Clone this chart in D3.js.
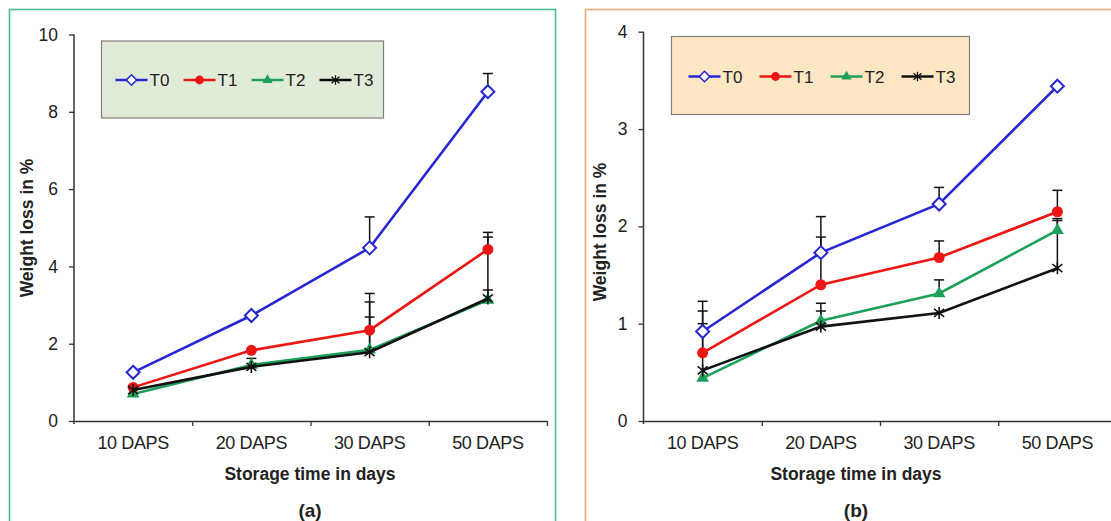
<!DOCTYPE html>
<html>
<head>
<meta charset="utf-8">
<script src="https://cdn.jsdelivr.net/npm/d3@7"></script>
<style>
  body { margin: 0; background: #fff; }
  svg { display: block; font-family: "Liberation Sans", Arial, sans-serif; }
</style>
</head>
<body>
<svg id="chart" width="1111" height="521"></svg>
<script>
var categories = ["10 DAPS", "20 DAPS", "30 DAPS", "50 DAPS"];
var seriesNames = ["T0", "T1", "T2", "T3"];
var yTicksA = [0, 2, 4, 6, 8, 10];
var yTicksB = [0, 1, 2, 3, 4];

// panel (a) weight loss, %
var lossA_T0 = [1.26, 2.73, 4.48, 8.52];
var lossA_T1 = [0.87, 1.83, 2.35, 4.44];
var lossA_T2 = [0.70, 1.45, 1.84, 3.13];
var lossA_T3 = [0.80, 1.40, 1.78, 3.17];
// panel (a) upper error bars
var errA_T0 = [0, 0, 0.80, 0.47];
var errA_T1 = [0, 0, 0.95, 0.44];
var errA_T2 = [0, 0.17, 1.24, 1.63];
var errA_T3 = [0, 0, 0.91, 0.22];

// panel (b) weight loss, %
var lossB_T0 = [0.92, 1.73, 2.23, 3.44];
var lossB_T1 = [0.70, 1.40, 1.68, 2.15];
var lossB_T2 = [0.44, 1.03, 1.31, 1.96];
var lossB_T3 = [0.52, 0.97, 1.11, 1.57];
// panel (b) upper error bars
var errB_T0 = [0.31, 0.37, 0.17, 0];
var errB_T1 = [0.43, 0.49, 0.17, 0.22];
var errB_T2 = [0, 0.18, 0.14, 0.10];
var errB_T3 = [0.48, 0.16, 0, 0.51];

var styles = [
    {color: "#2727d6", marker: "diamond"},
    {color: "#ee1515", marker: "circle"},
    {color: "#1da05a", marker: "triangle"},
    {color: "#111111", marker: "star"}
];

var svg = d3.select("#chart");

var markerPath = function(type) {
    if (type === "diamond") return "M0,-6.5L6.5,0L0,6.5L-6.5,0Z";
    if (type === "circle") return d3.symbol(d3.symbolCircle, 95)();
    if (type === "triangle") return d3.symbol(d3.symbolTriangle, 70)();
    return "M0,-6L0,6M-5,-4L5,4M-5,4L5,-4";
};

var drawMarker = function(g, type, color) {
    g.append("path")
        .attr("d", markerPath(type))
        .attr("fill", type === "diamond" ? "#fff" : (type === "star" ? "none" : color))
        .attr("stroke", color)
        .attr("stroke-width", type === "diamond" ? 2 : (type === "star" ? 1.6 : 0));
};

var drawPanel = function(p) {
    svg.append("rect")
        .attr("x", p.bx).attr("y", p.by)
        .attr("width", p.bw).attr("height", 560)
        .attr("fill", "none")
        .attr("stroke", p.border).attr("stroke-width", 1.6);

    var g = svg.append("g").attr("transform", "translate(" + p.left + "," + p.top + ")");
    var width = 473, height = 421 - p.top;

    var x = d3.scaleBand().domain(categories).range([0, width]);
    var xb = d3.scaleLinear().domain([0, 4]).range([0, width]);
    var y = d3.scaleLinear().domain([0, p.ymax]).range([height, 0]);

    // y axis
    var ya = g.append("g")
        .call(d3.axisLeft(y).tickValues(p.yticks).tickFormat(d3.format("d"))
            .tickSize(5).tickSizeOuter(0).tickPadding(11));
    ya.select(".domain").attr("stroke", "#333").attr("stroke-width", 1.5).attr("d", "M0,0V" + (height + 3));
    ya.selectAll(".tick line").attr("stroke", "#333").attr("stroke-width", 1.3);
    ya.selectAll("text").attr("font-size", 17.5).attr("fill", "#222");

    // x axis line + tick marks at band edges
    var xa = g.append("g").attr("transform", "translate(0," + height + ")")
        .call(d3.axisBottom(xb).tickValues([1, 2, 3, 4]).tickSize(5).tickSizeOuter(0).tickFormat(""));
    xa.select(".domain").attr("stroke", "#333").attr("stroke-width", 1.5);
    xa.selectAll(".tick line").attr("stroke", "#333").attr("stroke-width", 1.3);

    var xl = g.append("g").attr("transform", "translate(0," + height + ")")
        .call(d3.axisBottom(x).tickSize(0).tickPadding(15));
    xl.select(".domain").remove();
    xl.selectAll("text").attr("font-size", 18).attr("fill", "#222").attr("letter-spacing", -0.4);

    // error bars
    p.series.forEach(function(s, si) {
        s.values.forEach(function(v, i) {
            var e = s.errors[i];
            if (!e) return;
            var cx = x(categories[i]) + x.bandwidth() / 2;
            g.append("line")
                .attr("x1", cx).attr("x2", cx)
                .attr("y1", y(v)).attr("y2", y(v + e))
                .attr("stroke", "#111").attr("stroke-width", 1.5);
            g.append("line")
                .attr("x1", cx - 5).attr("x2", cx + 5)
                .attr("y1", y(v + e)).attr("y2", y(v + e))
                .attr("stroke", "#111").attr("stroke-width", 1.5);
        });
    });

    var line = d3.line()
        .x(function(d, i) { return x(categories[i]) + x.bandwidth() / 2; })
        .y(function(d) { return y(d); });

    p.series.forEach(function(s, si) {
        var st = styles[si];
        g.append("path")
            .datum(s.values)
            .attr("d", line)
            .attr("fill", "none")
            .attr("stroke", st.color)
            .attr("stroke-width", 2.6);
        s.values.forEach(function(v, i) {
            var m = g.append("g")
                .attr("transform", "translate(" + (x(categories[i]) + x.bandwidth() / 2) + "," + y(v) + ")");
            drawMarker(m, st.marker, st.color);
        });
    });

    // legend
    var lg = svg.append("g");
    lg.append("rect")
        .attr("x", p.legend.x).attr("y", p.legend.y)
        .attr("width", p.legend.w).attr("height", p.legend.h)
        .attr("fill", p.legend.fill).attr("stroke", "#7f7f7f").attr("stroke-width", 1.2);
    seriesNames.forEach(function(name, i) {
        var st = styles[i];
        var lx = p.legend.x + p.legend.pad + i * p.legend.step;
        var ly = p.legend.y + p.legend.row;
        lg.append("line")
            .attr("x1", lx).attr("x2", lx + 32)
            .attr("y1", ly).attr("y2", ly)
            .attr("stroke", st.color).attr("stroke-width", 2.6);
        var m = lg.append("g").attr("transform", "translate(" + (lx + 16) + "," + ly + ") scale(0.8)");
        drawMarker(m, st.marker, st.color);
        lg.append("text")
            .attr("x", lx + 34).attr("y", ly + 6)
            .attr("font-size", 17).attr("fill", "#222")
            .text(name);
    });

    // titles
    svg.append("text")
        .attr("x", p.xTitleX).attr("y", 480)
        .attr("text-anchor", "middle")
        .attr("font-size", 17.5).attr("font-weight", "bold").attr("fill", "#222")
        .text("Storage time in days");
    svg.append("text")
        .attr("transform", "translate(" + p.yTitleX + "," + p.yTitleY + ") rotate(-90)")
        .attr("text-anchor", "middle")
        .attr("font-size", 17.5).attr("font-weight", "bold").attr("fill", "#222")
        .text("Weight loss in %");
    svg.append("text")
        .attr("x", p.xTitleX).attr("y", 517)
        .attr("text-anchor", "middle")
        .attr("font-size", 19).attr("font-weight", "bold").attr("fill", "#222")
        .text(p.label);
};

drawPanel({
    bx: 9.5, by: 9.5, bw: 546, border: "#4dbb8c",
    left: 74, top: 34.5, ymax: 10, yticks: yTicksA,
    series: [
        {values: lossA_T0, errors: errA_T0},
        {values: lossA_T1, errors: errA_T1},
        {values: lossA_T2, errors: errA_T2},
        {values: lossA_T3, errors: errA_T3}
    ],
    legend: {x: 101.5, y: 41, w: 282, h: 77, fill: "#e1ecd8", pad: 14, step: 68, row: 39},
    xTitleX: 310, yTitleX: 33, yTitleY: 228, label: "(a)"
});

drawPanel({
    bx: 585.5, by: 9.5, bw: 560, border: "#eea777",
    left: 643.5, top: 31.7, ymax: 4, yticks: yTicksB,
    series: [
        {values: lossB_T0, errors: errB_T0},
        {values: lossB_T1, errors: errB_T1},
        {values: lossB_T2, errors: errB_T2},
        {values: lossB_T3, errors: errB_T3}
    ],
    legend: {x: 671.5, y: 36.5, w: 298, h: 78, fill: "#fde7c3", pad: 17, step: 71, row: 40},
    xTitleX: 856, yTitleX: 606, yTitleY: 232, label: "(b)"
});
</script>
</body>
</html>
